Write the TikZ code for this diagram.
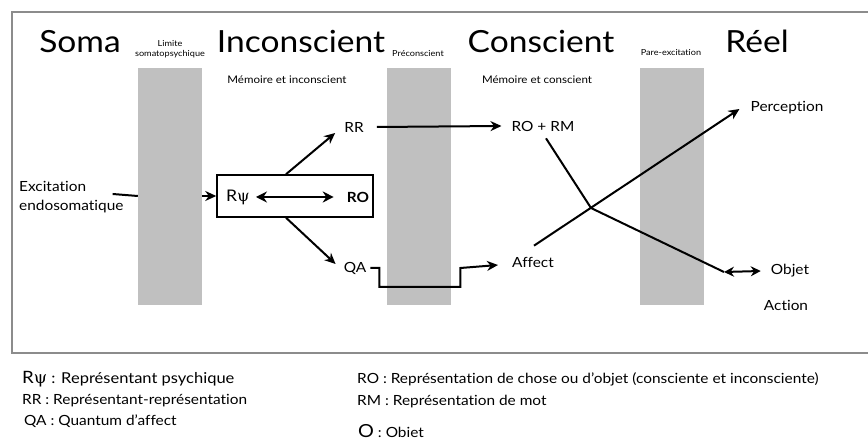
\documentclass[tikz,border=0pt]{standalone}
\usepackage{fontspec}
\setmainfont{Lato}[FakeStretch=1.1, Ligatures=NoCommon]
\newfontfamily\psifont{DejaVu Serif}
\newcommand{\rpsitext}{R{\psifont ψ}}
\usetikzlibrary{arrows.meta,calc}
\definecolor{barg}{HTML}{C0C0C0}
\definecolor{framec}{HTML}{8C8C8C}
\begin{document}
\begin{tikzpicture}[x=1pt,y=-1pt,
  big/.style={font=\fontsize{30.5}{31}\selectfont, inner sep=0pt, anchor=base},
  tiny/.style={font=\fontsize{8.3}{9}\selectfont, inner sep=0pt, anchor=base},
  mem/.style={font=\fontsize{10.5}{11}\selectfont, inner sep=0pt, anchor=base},
  lab/.style={font=\fontsize{14}{19}\selectfont, inner sep=1pt},
  leg/.style={font=\fontsize{14}{15}\selectfont, inner sep=0pt, anchor=base west},
  bar/.style={fill=barg, draw=none, minimum width=64pt, minimum height=237pt, inner sep=0pt},
  tip/.style={-{Stealth[length=11pt,width=10pt]}},
  plain/.style={line width=2pt},
  conn/.style={plain, tip},
]
\useasboundingbox (0,0) rectangle (868,443);
% frame
\draw[framec, line width=1.6pt] (875,12) -- (12,12) -- (12,353) -- (875,353);
% bars
\node[bar] (b1) at (170,186.5) {};
\node[bar] (b2) at (419,186.5) {};
\node[bar] (b3) at (672,186.5) {};
% titles
\node[big] (soma) at (80,53) {Soma};
\node[big] (incons) at (301,53) {Inconscient};
\node[big] (cons) at (541,53) {Conscient};
\node[big] (reel) at (757,53) {Réel};
\node[tiny] (lim1) at (170,47) {Limite};
\node[tiny] (lim2) at (170,57) {somatopsychique};
\node[tiny] (prec) at (418,57) {Préconscient};
\node[tiny] (pare) at (671,56) {Pare-excitation};
\node[mem] (memi) at (287,84) {Mémoire et inconscient};
\node[mem] (memc) at (537,84) {Mémoire et conscient};
% left input
\node[lab, align=left, anchor=west] (exc) at (18,197) {Excitation\\endosomatique};
\draw[plain] ($(exc.east)+(-12,-3)$) -- ($(b1.west |- exc.east)+(0,-1)$);
% box
\node[draw, line width=1.5pt, minimum width=156pt, minimum height=42pt, inner sep=0pt] (box) at (295,196) {};
\draw[conn] (b1.east |- box.west) -- (box.west);
\node[lab, font=\fontsize{16}{16}\selectfont] (rpsi) at (238,197) {\rpsitext};
\node[lab, font=\bfseries\fontsize{14}{15}\selectfont] (ro) at (358,197) {RO};
\draw[line width=2.8pt, {Stealth[length=11pt,width=11pt]}-{Stealth[length=11pt,width=11pt]}]
  ($(rpsi.east)+(5,0)$) -- ($(ro.west)+(-12,0)$);
% RR and QA
\node[lab] (rr) at (354,127) {RR};
\node[lab] (qa) at (355,268) {QA};
\draw[conn] ($(box.north)+(-9,0)$) -- ($(rr.west)+(-8,6)$);
\draw[conn] ($(box.south)+(-9,0)$) -- ($(qa.west)+(-7,-4)$);
% conscient side
\node[lab] (rorm) at (543,126) {RO + RM};
\node[lab] (affect) at (533,262) {Affect};
\draw[conn] ($(rr.east)+(12,0)$) -- ($(rorm.west)+(-9,0)$);
\draw[plain, tip, line join=miter] ($(qa.east)+(3,0)$) -- ++(9,0) -- ++(0,19) -- ++(81,0) -- ++(0,-19)
  -- ($(affect.west)+(-13,3)$);
% reel side
\node[lab] (perc) at (787,108) {Perception};
\node[lab] (objet) at (790,271) {Objet};
\node[lab] (action) at (786,305) {Action};
\coordinate (xc) at (591,208);
\coordinate (oa) at (724,272);
\draw[conn] ($(affect.north)+(1,-10)$) -- ($(perc.west)+(-10,1)$);
\draw[plain] ($(rorm.south)+(3,6)$) -- (xc) -- (oa);
\draw[plain, {Stealth[length=10pt,width=10pt]}-{Stealth[length=10pt,width=10pt]}] (oa) -- ($(objet.west)+(-9,0)$);
% legend
\node[leg, font=\fontsize{15}{15}\selectfont] (l1) at (22,384) {{\fontsize{17}{17}\selectfont\rpsitext} : Représentant psychique};
\node[leg] (l2) at (22,405) {RR : Représentant-représentation};
\node[leg] (l3) at (24,426) {QA : Quantum d’affect};
\node[leg] (r1) at (357,384) {RO : Représentation de chose ou d’objet (consciente et inconsciente)};
\node[leg] (r2) at (357,406) {RM : Représentation de mot};
\node[leg] (r3) at (358,438) {{\fontsize{18}{18}\selectfont O} : Obiet};
\end{tikzpicture}
\end{document}
